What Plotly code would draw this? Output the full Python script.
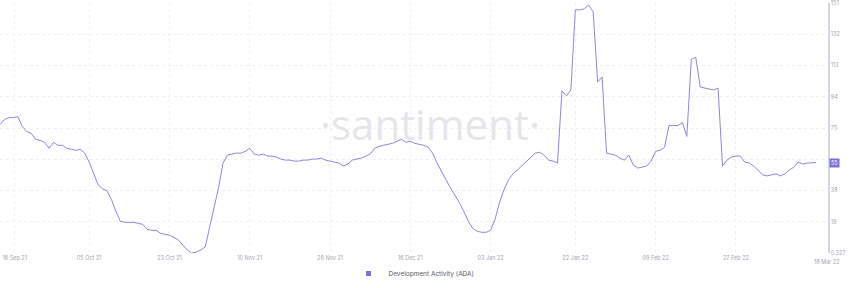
import pandas as pd
import plotly.graph_objects as go

# ---- data -------------------------------------------------------------
START_DATE = "2021-09-15"
DEV_ACTIVITY = [
    77.7, 80.7, 81.9, 81.9, 82.5, 76.5, 73.5, 72.4, 68.8, 68.2,
    67.0, 63.4, 67.0, 65.2, 65.2, 63.4, 62.8, 62.2, 62.8, 60.5,
    55.1, 48.5, 41.4, 39.0, 37.8, 32.5, 25.3, 19.4, 18.8, 18.8,
    18.8, 18.2, 17.6, 14.6, 14.0, 14.0, 12.2, 11.6, 11.0, 9.8,
    8.1, 5.1, 2.1, 0.3, 0.9, 2.1, 3.9, 15.8, 27.7, 39.6,
    54.5, 59.3, 59.9, 60.5, 60.5, 61.6, 63.4, 59.9, 59.3, 59.9,
    58.7, 58.7, 58.1, 56.9, 56.3, 56.3, 55.7, 55.7, 56.3, 56.3,
    56.9, 56.9, 57.5, 56.3, 55.7, 55.1, 54.5, 52.7, 53.9, 56.3,
    56.9, 57.5, 58.7, 59.9, 63.4, 64.6, 65.2, 65.8, 66.4, 67.6,
    68.8, 67.0, 67.6, 66.4, 65.8, 65.2, 64.0, 60.5, 54.5, 49.1,
    44.4, 39.6, 35.4, 30.7, 25.3, 19.4, 15.2, 13.4, 12.8, 12.8,
    14.0, 20.6, 30.7, 38.4, 44.4, 47.9, 50.3, 52.7, 55.7, 57.5,
    60.5, 61.0, 59.3, 56.3, 55.7, 54.5, 98.0, 95.0, 98.5, 146.8,
    146.8, 147.4, 149.7, 145.6, 103.3, 106.3, 60.5, 59.9, 59.3, 57.5,
    56.3, 59.3, 53.3, 51.5, 52.1, 52.7, 55.7, 61.6, 62.2, 64.0,
    77.1, 77.1, 77.1, 78.9, 70.6, 117.0, 118.2, 100.3, 99.7, 99.1,
    98.5, 99.7, 52.7, 56.3, 58.1, 58.7, 58.7, 55.1, 54.5, 52.7,
    50.3, 47.4, 46.8, 47.4, 48.0, 46.8, 48.0, 50.3, 52.1, 55.1,
    53.9, 54.5, 54.5, 54.8,
]
SERIES_NAME = "Development Activity (ADA)"
X_TICK_LABELS = ["16 Sep 21", "05 Oct 21", "23 Oct 21", "10 Nov 21", "28 Nov 21",
                 "16 Dec 21", "03 Jan 22", "22 Jan 22", "09 Feb 22", "27 Feb 22"]
LAST_X_LABEL = "18 Mar 22"
Y_TICK_VALUES = [0.327, 19.15, 37.98, 56.8, 75.63, 94.45, 113.28, 132.1, 150.93]
# the 57 label is covered by the current-value badge in the original
Y_TICK_LABELS = ["0.327", "19", "38", "", "75", "94", "113", "132", "151"]

# ---- figure -----------------------------------------------------------
dates = pd.date_range(START_DATE, periods=len(DEV_ACTIVITY), freq="D")
x0 = pd.Timestamp(START_DATE)
x1 = x0 + pd.Timedelta(days=185.65)

tickvals = [pd.to_datetime(t, format="%d %b %y") for t in X_TICK_LABELS]
# keep the first label inside the plot (like the original)
tickvals[0] = max(tickvals[0], x0 + pd.Timedelta(days=3.3))

LINE = "#8e86e0"
W, H = 850, 288
ML, MR, MT, MB = 0, 22, 3, 32
PW = W - ML - MR
PH = H - MT - MB
TICKFONT = dict(size=5.5, color="#a4a6ae")

fig = go.Figure()
fig.add_trace(go.Scatter(
    x=dates, y=DEV_ACTIVITY, mode="lines",
    line=dict(color=LINE, width=1), showlegend=False, name=SERIES_NAME,
    hoverinfo="x+y"))
fig.add_trace(go.Scatter(
    x=[None], y=[None], mode="markers", name=SERIES_NAME,
    marker=dict(symbol="square", size=5, color="#7d70d6")))

fig.update_layout(
    width=W, height=H,
    margin=dict(l=ML, r=MR, t=MT, b=MB),
    paper_bgcolor="white", plot_bgcolor="white",
    font=dict(family="Inter, Roboto, sans-serif", size=6, color="#9a9ca5"),
    showlegend=True,
    legend=dict(orientation="h", x=0.5, xanchor="center", y=-0.083, yanchor="middle",
                font=dict(size=6.5, color="#5a5c66"), itemwidth=30,
                bgcolor="rgba(0,0,0,0)"),
)
fig.update_xaxes(
    type="date", range=[x0, x1],
    tickvals=tickvals, ticktext=X_TICK_LABELS,
    showgrid=True, gridcolor="#f1f1f4", griddash="dot", gridwidth=1,
    showline=False, zeroline=False, ticks="",
    ticklabeloverflow="allow",
    tickfont=TICKFONT,
)
fig.update_yaxes(
    side="right", range=[Y_TICK_VALUES[0], Y_TICK_VALUES[-1]],
    tickvals=Y_TICK_VALUES, ticktext=Y_TICK_LABELS,
    showgrid=True, gridcolor="#f1f1f4", griddash="dot", gridwidth=1,
    showline=True, linecolor="#d6d4ec", linewidth=1.5,
    zeroline=False, ticks="",
    ticklabeloverflow="allow",
    tickfont=TICKFONT,
)

# last x label sits just past the axis end
fig.add_annotation(
    xref="paper", yref="paper", x=1 + (827 - PW) / PW, y=0, yshift=-4,
    text=LAST_X_LABEL, showarrow=False, xanchor="center", yanchor="top",
    font=TICKFONT)

# watermark
fig.add_annotation(
    xref="paper", yref="paper", x=430 / PW, y=(PH - 122) / PH,
    text="·santiment·", showarrow=False, xanchor="center", yanchor="middle",
    font=dict(family="Open Sans, sans-serif", size=42, color="#e6e6ea"))

# current value marker on the axis
fig.add_annotation(
    xref="paper", yref="y", x=1, xshift=1, y=DEV_ACTIVITY[-1],
    text=f"{DEV_ACTIVITY[-1]:.0f}", showarrow=False, xanchor="left", yanchor="middle",
    bgcolor="#7d70d6", borderpad=1,
    font=dict(size=5.5, color="white"))

fig.write_html("out.html")
